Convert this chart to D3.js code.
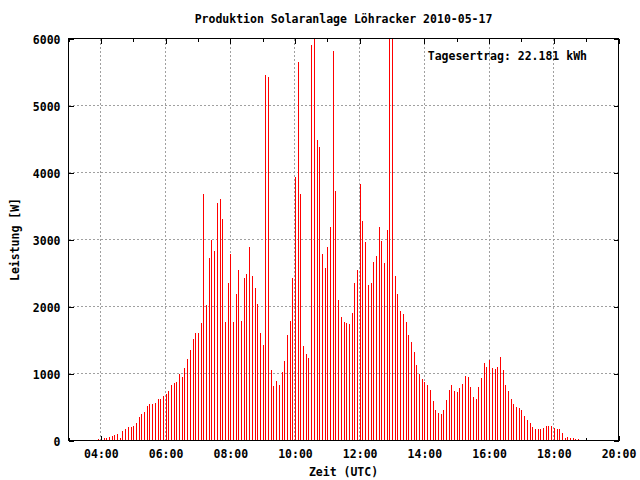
<!DOCTYPE html>
<html><head><meta charset="utf-8">
<script src="https://cdn.jsdelivr.net/npm/d3@7"></script>
<style>
body{margin:0;background:#fff}
svg{display:block;background:#fff}
text{font-family:"DejaVu Sans Mono",monospace;font-weight:bold;font-size:11.5px;fill:#000}
</style>
</head><body><svg id="c" width="640" height="480"></svg>
<script>
// ---- data ----
const title = "Produktion Solaranlage Löhracker 2010-05-17";
const keyText = "Tagesertrag: 22.181 kWh";
const xLabel = "Zeit (UTC)";
const yLabel = "Leistung [W]";
const day = "2010-05-17";
const firstSample = "03:56";
const sampleMinutes = 5;
const xDomain = ["03:00", "20:00"];
const xTickLabels = ["04:00","06:00","08:00","10:00","12:00","14:00","16:00","18:00","20:00"];
const yTicks = [0, 1000, 2000, 3000, 4000, 5000, 6000];
const power = [
  15, 0, 30, 35, 50, 65, 75, 90, 35, 135, 170, 200, 200, 215, 260, 350, 390, 425, 510, 540,
  550, 565, 625, 625, 660, 700, 745, 825, 855, 880, 990, 955, 1075,
  1210, 1345, 1520, 1600, 1600, 1760, 3685, 2015, 2730, 3000, 2835, 3550, 3610, 3300, 1775, 2345,
  2790, 1775, 2180, 2550, 1790, 2430, 2480, 2895, 2460, 2270, 2030, 1610, 1420, 5450, 5430, 1050,
  820, 895, 835, 1015, 1180, 1580, 1790, 2420, 3940, 5655, 3685, 1405, 1285, 1225, 5910, 6050,
  4480, 4375, 2790, 2580, 2895, 3180, 5820, 3730, 2090, 1850, 1775, 1760, 1745, 1910, 2345, 2550,
  3835, 3270, 2970, 2315, 2345, 2670, 2760, 3180, 2985, 2655, 3135, 6300, 6300, 2460, 2180, 1940,
  1895, 1775, 1580, 1475, 1315, 1120, 1000, 925, 880, 835,
  760, 595, 450, 405, 390, 450, 610, 760, 835, 745, 730, 790, 850, 970, 955, 805, 655, 625, 805,
  940, 1150, 1090, 1195, 1075, 1060, 1090, 1240, 1045, 835, 745, 625, 540, 495, 480, 450, 360,
  300, 255, 195, 165, 165, 165, 180, 210, 210, 210, 180, 165, 165, 105, 30, 45, 30, 30, 15, 15
];

// ---- chart ----
const parse = d3.utcParse("%Y-%m-%d %H:%M");
const fmt = d3.utcFormat("%H:%M");
const t0 = parse(day + " " + firstSample);
const samples = power.map((v, i) => ({ t: d3.utcMinute.offset(t0, i * sampleMinutes), v }));

const L = 68.5, R = 618.5, T = 38.5, B = 440.5;
const x = d3.scaleUtc().domain(xDomain.map(s => parse(day + " " + s))).range([L, R]);
const y = d3.scaleLinear().domain([0, 6000]).range([B, T]);
const px = v => Math.floor(v) + 0.5;

const svg = d3.select("#c");
const majors = xTickLabels.map(s => parse(day + " " + s));
const minors = d3.utcHour.range(x.domain()[0], d3.utcHour.offset(x.domain()[1], 1));

svg.append("defs").append("clipPath").attr("id", "clip")
  .append("rect").attr("x", L).attr("y", T).attr("width", R - L).attr("height", B - T);

// grid
const grid = svg.append("g").attr("stroke", "#a0a0a0").attr("stroke-width", 1)
  .attr("stroke-dasharray", "2,2").attr("shape-rendering", "crispEdges");
grid.selectAll(".gx").data(majors.filter(d => px(x(d)) > L + 1 && px(x(d)) < R - 1)).join("line")
  .attr("x1", d => px(x(d))).attr("x2", d => px(x(d))).attr("y1", T).attr("y2", B);
grid.selectAll(".gy").data(yTicks.filter(v => v > 0 && v < 6000)).join("line")
  .attr("y1", d => px(y(d))).attr("y2", d => px(y(d))).attr("x1", L).attr("x2", R);

// axes (labels + inward ticks)
function styleAxis(g) {
  g.select(".domain").remove();
  g.selectAll("line").attr("stroke", "#000").attr("shape-rendering", "crispEdges");
}
const xAxis = d3.axisBottom(x).tickValues(majors).tickFormat(fmt).tickSizeInner(-5).tickSizeOuter(0).tickPadding(9);
svg.append("g").attr("transform", `translate(0,${B})`).call(xAxis).call(styleAxis);
svg.append("g").attr("transform", `translate(0,${B})`)
  .call(d3.axisBottom(x).tickValues(minors).tickFormat("").tickSizeInner(-3).tickSizeOuter(0)).call(styleAxis);
svg.append("g").attr("transform", `translate(0,${T})`)
  .call(d3.axisTop(x).tickValues(majors).tickFormat("").tickSizeInner(-5).tickSizeOuter(0)).call(styleAxis);
svg.append("g").attr("transform", `translate(0,${T})`)
  .call(d3.axisTop(x).tickValues(minors).tickFormat("").tickSizeInner(-3).tickSizeOuter(0)).call(styleAxis);
const yAxis = d3.axisLeft(y).tickValues(yTicks).tickFormat(d3.format("d")).tickSizeInner(-5).tickSizeOuter(0).tickPadding(8);
svg.append("g").attr("transform", `translate(${L},0)`).call(yAxis).call(styleAxis)
  .selectAll("text").attr("dy", "0.4em");
svg.append("g").attr("transform", `translate(${R},0)`)
  .call(d3.axisRight(y).tickValues(yTicks).tickFormat("").tickSizeInner(-5).tickSizeOuter(0)).call(styleAxis);

// bars (impulses)
svg.append("g").attr("clip-path", "url(#clip)")
  .attr("stroke", "#ff0000").attr("stroke-width", 1).attr("shape-rendering", "crispEdges")
  .selectAll("line").data(samples).join("line")
  .attr("x1", d => px(x(d.t))).attr("x2", d => px(x(d.t)))
  .attr("y1", B - 0.5).attr("y2", d => Math.min(B - 0.5, y(d.v)));

// border
svg.append("rect").attr("x", L).attr("y", T).attr("width", R - L).attr("height", B - T)
  .attr("fill", "none").attr("stroke", "#000").attr("stroke-width", 1).attr("shape-rendering", "crispEdges");

// texts
svg.append("text").attr("x", (L + R) / 2).attr("y", 23).attr("text-anchor", "middle").text(title);
svg.append("text").attr("x", 587).attr("y", 60).attr("text-anchor", "end").text(keyText);
svg.append("text").attr("x", (L + R) / 2).attr("y", 476).attr("text-anchor", "middle").text(xLabel);
svg.append("text").attr("transform", `translate(18.5,${(T + B) / 2}) rotate(-90)`)
  .attr("text-anchor", "middle").text(yLabel);
</script>
</body></html>
